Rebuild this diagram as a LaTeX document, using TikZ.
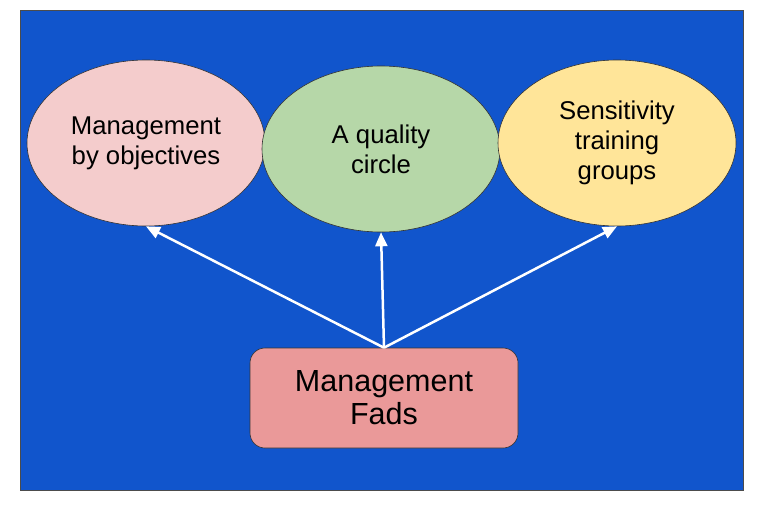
\documentclass[tikz,border=0pt]{standalone}
\usepackage{fontspec}
\setmainfont{Liberation Sans}
\usetikzlibrary{shapes.geometric,positioning,arrows.meta}

\definecolor{bgblue}{HTML}{1155CC}
\definecolor{fadpink}{HTML}{F4CCCC}
\definecolor{fadgreen}{HTML}{B6D7A8}
\definecolor{fadyellow}{HTML}{FFE599}
\definecolor{fadred}{HTML}{EA9999}

\tikzset{
  fad/.style={ellipse,draw=black!80,line width=0.6pt,minimum width=238pt,
    minimum height=166pt,inner sep=0pt,align=center,
    font=\fontsize{25.7}{30}\selectfont},
  root/.style={rectangle,rounded corners=15pt,draw=black!80,line width=0.6pt,
    fill=fadred,minimum width=268pt,minimum height=100pt,align=center,
    font=\fontsize{30.5}{33}\selectfont},
}

\begin{document}
\begin{tikzpicture}[x=1pt,y=-1pt,on grid,node distance=235pt,
    >={Triangle[length=14pt,width=12pt]},line width=2.5pt]
   \useasboundingbox (0,0) rectangle (768,512);
   \fill[bgblue,draw=black!70,line width=0.8pt] (20,10) rectangle (743,490);
   \node[fad,fill=fadpink] (mbo) at (146,143) {Management\\by objectives};
   \node[fad,fill=fadgreen] (qual) [right=of mbo,yshift=-6pt] {A quality\\circle};
   \node[fad,fill=fadyellow] (sens) [right=of qual,yshift=6pt,xshift=1pt] {Sensitivity\\training\\groups};
   \node[root] (fads) [below=249pt of qual,xshift=3pt] {Management\\Fads};
   \path[->,white]
        (fads.north) edge node {} (mbo.south)
        (fads.north) edge node {} (qual.south)
        (fads.north) edge node {} (sens.south)
        ;
\end{tikzpicture}
\end{document}
